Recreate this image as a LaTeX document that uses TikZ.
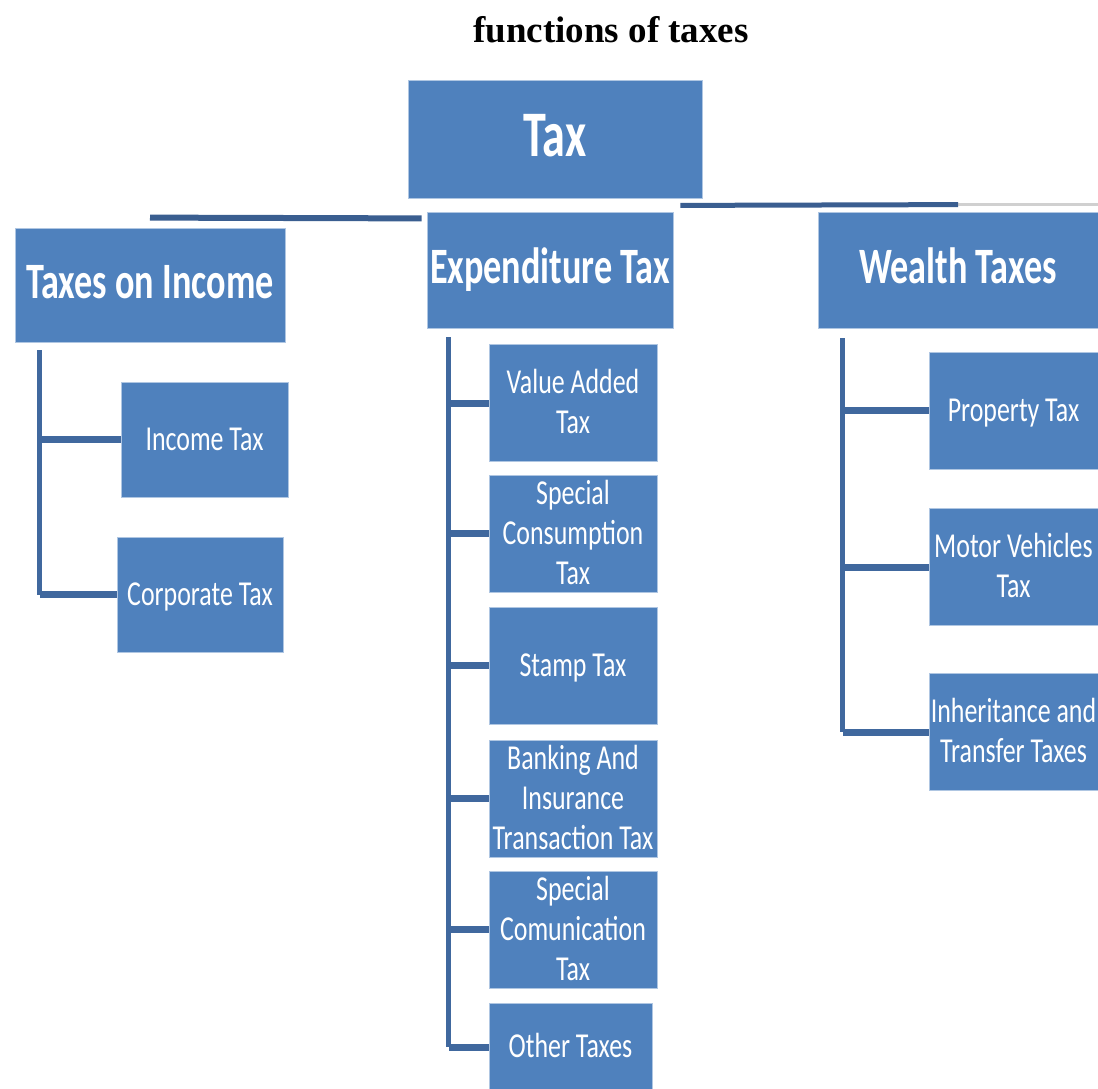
\documentclass[tikz,border=0pt]{standalone}
\usepackage{fontspec}
\usepackage{graphicx}
\setmainfont{Carlito}
\newfontfamily\titlefont{Liberation Serif}
\usetikzlibrary{calc,positioning}

\definecolor{boxblue}{RGB}{79,129,189}
\definecolor{boxrim}{RGB}{175,198,226}
\definecolor{linkblue}{RGB}{64,104,158}
\definecolor{topblue}{RGB}{58,94,144}
\definecolor{rimgray}{RGB}{208,208,208}

% squeezed box text, kept out of the box size
\newcommand\sq[1]{\raisebox{-0.25em}[0pt][0pt]{\scalebox{0.74}[1]{\begin{tabular}{@{}c@{}}#1\end{tabular}}}}
% one line, capitals centred
\newcommand\sqt[1]{\raisebox{-0.27em}[0pt][0pt]{\scalebox{0.71}[1]{#1}}}

\begin{document}
\begin{tikzpicture}[x=1pt,y=-1pt]
\tikzset{B/.style={rectangle,fill=boxblue,draw=boxrim,line width=0.8pt,text=white,inner sep=0,font=\fontsize{35}{40}\selectfont},
T/.style={B,font=\fontsize{51}{60}\selectfont\bfseries},
M/.style={B,minimum width=168,minimum height=117},
R/.style={B,minimum width=169,minimum height=117},
V/.style={draw=linkblue,line width=5pt},
H/.style={draw=linkblue,line width=7pt},
K/.style={draw=topblue,line width=6pt}
}
\useasboundingbox (0,0) rectangle (1098,1088);

% Title
\node[anchor=base,font=\titlefont\bfseries\fontsize{37}{40}\selectfont] (title) at (611,42) {functions of taxes};

% Top level
\node[T,font=\fontsize{65}{70}\selectfont\bfseries,minimum width=294,minimum height=118] (tax) at (555,139) {\sqt{Tax}};
\node[T,minimum width=270,minimum height=114] (inc) at (150,285) {\sqt{Taxes on Income}};
\node[T,minimum width=246,minimum height=116] (exp) at (550,270) {\sqt{Expenditure Tax}};
\node[T,minimum width=280,minimum height=116] (wea) at (958,270) {\sqt{Wealth Taxes}};

% Taxes on income
\node[B,minimum width=167,minimum height=115] (itax) at (204.5,439.5) {\sq{Income Tax}};
\node[B,minimum width=166,minimum height=115] (corp) at (200,594.5) {\sq{Corporate Tax}};

% Expenditure taxes
\node[M] (vat) at (573,403) {\sq{Value Added\\Tax}};
\node[M] (scons) at (573,533.5) {\sq{Special\\Consumption\\Tax}};
\node[M] (stamp) at (573,665.5) {\sq{Stamp Tax}};
\node[M] (bank) at (573,798.5) {\sq{Banking And\\Insurance\\Transaction Tax}};
\node[M] (scom) at (573,929.5) {\sq{Special\\Comunication\\Tax}};
\node[M,minimum width=163,minimum height=88] (other) at (570.5,1047) {\sq{Other Taxes}};

% Wealth taxes
\node[R] (prop) at (1013.5,410.5) {\sq{Property Tax}};
\node[R,below=39pt of prop] (motor) {\sq{Motor Vehicles\\Tax}};
\node[R,below=47pt of motor] (inher) {\sq{Inheritance and\\Transfer Taxes}};

% links from the top
\draw[draw=rimgray,line width=2.5pt] ([yshift=7pt]wea.north) -- ([yshift=7pt]wea.north east);
\draw[K] ([xshift=14pt,yshift=-20pt]tax.south west) -- ([yshift=10pt]inc.north);
\draw[K,line width=5pt] ([xshift=-22pt,yshift=-7pt]tax.south east) -- ([yshift=7pt]wea.north);

% links below each group
\coordinate (a) at ($(inc.south west)+(25,8)$);
\draw[V] (a) -- (a |- corp.west);
\draw[H] (a |- itax.west) -- (itax.west);
\draw[H] (a |- corp.west) -- (corp.west);

\coordinate (b) at ($(exp.south west)+(22,9)$);
\draw[V] (b) -- (b |- other.west);
\draw[H] (b |- vat.west) -- (vat.west);
\draw[H] (b |- scons.west) -- (scons.west);
\draw[H] (b |- stamp.west) -- (stamp.west);
\draw[H] (b |- bank.west) -- (bank.west);
\draw[H] (b |- scom.west) -- (scom.west);
\draw[H] (b |- other.west) -- (other.west);

\coordinate (c) at ($(wea.south west)+(25,10)$);
\draw[V] (c) -- (c |- inher.west);
\draw[H] (c |- prop.west) -- (prop.west);
\draw[H] (c |- motor.west) -- (motor.west);
\draw[H] (c |- inher.west) -- (inher.west);

\end{tikzpicture}
\end{document}
